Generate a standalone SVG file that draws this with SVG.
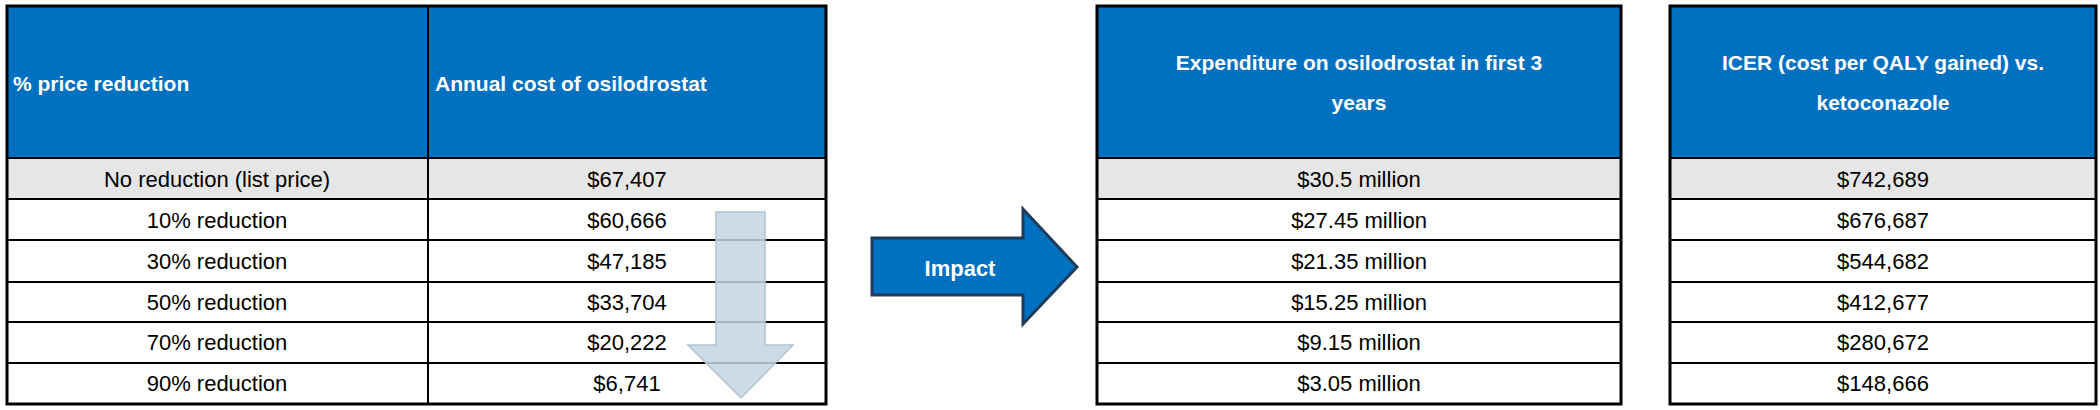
<svg xmlns="http://www.w3.org/2000/svg" width="2100" height="410" viewBox="0 0 2100 410">
<style>
.hd{fill:#0070C0}
.g{fill:#E7E6E6}
.w{fill:#fff}
.ln{stroke:#000;stroke-width:2;fill:none}
.ob{stroke:#000;stroke-width:3;fill:none}
.ht{font-family:"Liberation Sans",Arial,sans-serif;font-weight:bold;font-size:21px;fill:#fff}
.t{font-family:"Liberation Sans",Arial,sans-serif;font-size:22px;fill:#000;text-anchor:middle}
</style>
<rect width="2100" height="410" fill="#fff"/>
<g id="table1">
<rect class="hd" x="7" y="6" width="819" height="152"/>
<rect class="g" x="7" y="158" width="819" height="41"/>
<path class="ln" d="M428 6V404M7 158H826M7 199H826M7 240H826M7 282H826M7 322H826M7 363H826"/>
<rect class="ob" x="7" y="6" width="819" height="398"/>
<text class="ht" x="13" y="91">% price reduction</text>
<text class="ht" x="435" y="91">Annual cost of osilodrostat</text>
<text class="t" x="217" y="187">No reduction (list price)</text>
<text class="t" x="217" y="228">10% reduction</text>
<text class="t" x="217" y="269">30% reduction</text>
<text class="t" x="217" y="310">50% reduction</text>
<text class="t" x="217" y="350">70% reduction</text>
<text class="t" x="217" y="391">90% reduction</text>
<text class="t" x="627" y="187">$67,407</text>
<text class="t" x="627" y="228">$60,666</text>
<text class="t" x="627" y="269">$47,185</text>
<text class="t" x="627" y="310">$33,704</text>
<text class="t" x="627" y="350">$20,222</text>
<text class="t" x="627" y="391">$6,741</text>
</g>
<g id="down-arrow">
<path d="M716 212H765V345H793L741 398L688 345H716Z" fill="#C5D5E0" fill-opacity="0.85" stroke="#AFC4D3" stroke-width="1.5"/>
</g>
<g id="impact-arrow">
<path d="M872 238H1023V209L1077 267L1023 324V295H872Z" fill="#0070C0" stroke="#1F3B5A" stroke-width="3"/>
<text x="960" y="276" font-family="Liberation Sans,Arial,sans-serif" font-weight="bold" font-size="22" fill="#fff" text-anchor="middle">Impact</text>
</g>
<g id="table2">
<rect class="hd" x="1097" y="6" width="524" height="152"/>
<rect class="g" x="1097" y="158" width="524" height="41"/>
<path class="ln" d="M1097 199H1621M1097 240H1621M1097 282H1621M1097 322H1621M1097 363H1621M1097 158H1621"/>
<rect class="ob" x="1097" y="6" width="524" height="398"/>
<text class="ht" x="1359" y="70" text-anchor="middle">Expenditure on osilodrostat in first 3</text>
<text class="ht" x="1359" y="110" text-anchor="middle">years</text>
<text class="t" x="1359" y="187">$30.5 million</text>
<text class="t" x="1359" y="228">$27.45 million</text>
<text class="t" x="1359" y="269">$21.35 million</text>
<text class="t" x="1359" y="310">$15.25 million</text>
<text class="t" x="1359" y="350">$9.15 million</text>
<text class="t" x="1359" y="391">$3.05 million</text>
</g>
<g id="table3">
<rect class="hd" x="1670" y="6" width="426" height="152"/>
<rect class="g" x="1670" y="158" width="426" height="41"/>
<path class="ln" d="M1670 199H2096M1670 240H2096M1670 282H2096M1670 322H2096M1670 363H2096M1670 158H2096"/>
<rect class="ob" x="1670" y="6" width="426" height="398"/>
<text class="ht" x="1883" y="70" text-anchor="middle">ICER (cost per QALY gained) vs.</text>
<text class="ht" x="1883" y="110" text-anchor="middle">ketoconazole</text>
<text class="t" x="1883" y="187">$742,689</text>
<text class="t" x="1883" y="228">$676,687</text>
<text class="t" x="1883" y="269">$544,682</text>
<text class="t" x="1883" y="310">$412,677</text>
<text class="t" x="1883" y="350">$280,672</text>
<text class="t" x="1883" y="391">$148,666</text>
</g>
<g id="connectors"/>
</svg>
